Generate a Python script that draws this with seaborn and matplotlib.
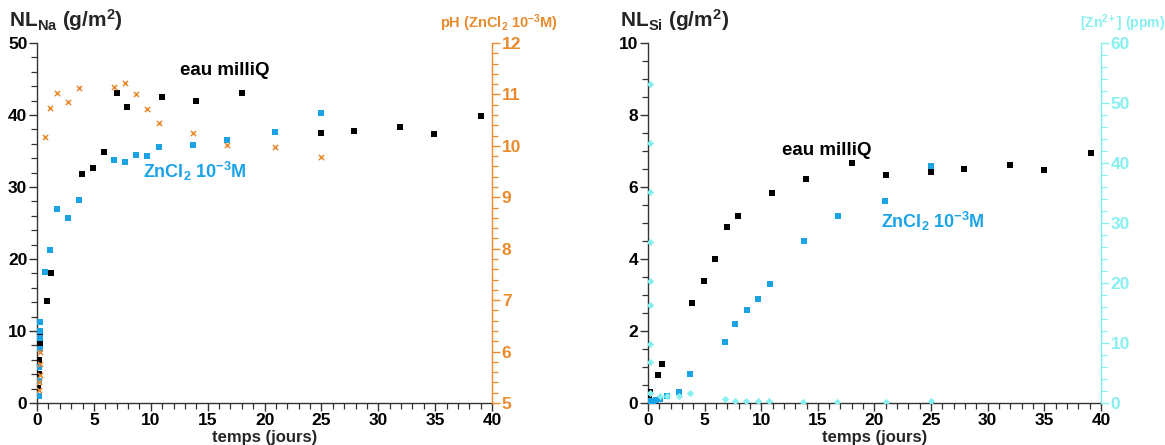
import matplotlib
matplotlib.use('Agg')
import matplotlib.pyplot as plt
from matplotlib.ticker import MultipleLocator
import pandas as pd
import seaborn as sns

# ---- data: Na release (left panel) ----
na_water_t = [0.1, 0.15, 0.2, 0.25, 0.3, 0.85, 1.26, 3.93, 4.93, 5.92, 7.0, 7.95, 10.97,
              13.96, 17.98, 20.9, 25.0, 27.9, 31.9, 34.9, 39.05]
na_water_y = [2.1, 4.0, 6.0, 8.3, 9.8, 14.1, 18.1, 31.8, 32.7, 34.9, 43.1, 41.1, 42.5,
              42.0, 43.0, 37.6, 37.5, 37.8, 38.4, 37.4, 39.9]
na_zn_t = [0.15, 0.2, 0.2, 0.25, 0.25, 0.3, 0.23, 0.73, 1.11, 1.73, 2.73, 3.72, 6.8, 7.74,
           8.71, 9.7, 10.7, 13.7, 16.7, 20.9, 25.0]
na_zn_y = [1.0, 3.0, 5.0, 7.5, 9.0, 10.0, 11.2, 18.2, 21.2, 26.9, 25.7, 28.2, 33.75, 33.5,
           34.4, 34.35, 35.5, 35.9, 36.5, 37.6, 40.3]
ph_t = [0.2, 0.2, 0.25, 0.25, 0.3, 0.73, 1.11, 1.73, 2.73, 3.72, 6.8, 7.74, 8.71, 9.7,
        10.7, 13.7, 16.7, 20.9, 25.0]
ph_y = [5.25, 5.4, 5.55, 5.75, 6.0, 10.18, 10.73, 11.03, 10.86, 11.12, 11.14, 11.22, 11.0,
        10.71, 10.45, 10.25, 10.01, 9.98, 9.78]

# ---- data: Si release (right panel) ----
si_water_t = [0.1, 0.2, 0.85, 1.26, 3.91, 4.91, 5.91, 6.97, 7.94, 10.94, 13.97, 18.0, 21.0,
              25.0, 27.95, 32.0, 35.0, 39.1]
si_water_y = [0.15, 0.3, 0.78, 1.09, 2.78, 3.39, 4.01, 4.89, 5.19, 5.83, 6.21, 6.67, 6.32,
              6.43, 6.49, 6.62, 6.47, 6.95]
si_zn_t = [0.2, 0.4, 0.7, 1.1, 1.7, 2.7, 3.71, 6.79, 7.71, 8.71, 9.74, 10.74, 13.74, 16.74,
           20.97, 25.0]
si_zn_y = [0.05, 0.06, 0.08, 0.1, 0.2, 0.3, 0.8, 1.69, 2.2, 2.59, 2.9, 3.3, 4.49, 5.19,
           5.6, 6.59]
zn_t = [0.15, 0.15, 0.15, 0.15, 0.15, 0.15, 0.15, 0.15, 0.2, 1.03, 1.7, 2.7, 3.7, 6.8, 7.7,
        8.7, 9.7, 10.7, 13.7, 16.7, 21.0, 25.0]
zn_y = [53.2, 43.4, 35.1, 26.9, 20.4, 16.4, 9.9, 6.8, 1.7, 1.1, 1.1, 1.2, 1.7, 0.7, 0.4,
        0.3, 0.3, 0.3, 0.2, 0.2, 0.2, 0.4]

BLACK = '#000000'
BLUE = '#1BA3E8'
ORANGE = '#EA8A2C'
CYAN = '#86F0F0'

sns.set_style('white')
plt.rcParams['font.family'] = ['Liberation Sans', 'DejaVu Sans']
plt.rcParams['font.weight'] = 'bold'
plt.rcParams['mathtext.fontset'] = 'custom'
plt.rcParams['mathtext.rm'] = 'Liberation Sans:bold'
plt.rcParams['mathtext.bf'] = 'Liberation Sans:bold'
plt.rcParams['mathtext.it'] = 'Liberation Sans:bold'

fig = plt.figure(figsize=(11.65, 4.45), dpi=100)
ax1 = fig.add_axes([0.0318, 0.0944, 0.3906, 0.809])
ax3 = fig.add_axes([0.5562, 0.0944, 0.3888, 0.809])

sq = dict(marker='s', s=21, linewidth=0, legend=False, zorder=3)

# left panel
sns.scatterplot(x=na_water_t, y=na_water_y, color=BLACK, ax=ax1, **sq)
sns.scatterplot(x=na_zn_t, y=na_zn_y, color=BLUE, ax=ax1, **sq)
ax2 = ax1.twinx()
sns.scatterplot(x=ph_t, y=ph_y, color=ORANGE, marker='x', s=14, linewidth=1.1,
                legend=False, ax=ax2)

# right panel
sns.scatterplot(x=si_water_t, y=si_water_y, color=BLACK, ax=ax3, **sq)
sns.scatterplot(x=si_zn_t, y=si_zn_y, color=BLUE, ax=ax3, **sq)
ax4 = ax3.twinx()
sns.scatterplot(x=zn_t, y=zn_y, color=CYAN, marker='D', s=14, linewidth=0,
                legend=False, ax=ax4)


def style_main(ax, ymax, ymaj, ymin):
    ax.set_xlim(0, 40)
    ax.set_ylim(0, ymax)
    ax.xaxis.set_major_locator(MultipleLocator(5))
    ax.xaxis.set_minor_locator(MultipleLocator(1))
    ax.yaxis.set_major_locator(MultipleLocator(ymaj))
    ax.yaxis.set_minor_locator(MultipleLocator(ymin))
    for s in ['top', 'right']:
        ax.spines[s].set_visible(False)
    for s in ['left', 'bottom']:
        ax.spines[s].set_color('#333333')
        ax.spines[s].set_linewidth(1.0)
    ax.tick_params(which='both', direction='out', bottom=True, left=True,
                   colors='#333333', labelcolor='black', labelsize=12.5, pad=1)
    ax.tick_params(which='major', length=6, width=1)
    ax.tick_params(which='minor', length=4, width=0.9)
    for lab in ax.get_xticklabels() + ax.get_yticklabels():
        lab.set_fontweight('bold')
    ax.set_xlabel('temps (jours)', fontsize=12, fontweight='bold', labelpad=0)
    ax.xaxis.set_label_coords(0.5, -0.075)
    ax.set_ylabel('')


def style_twin(ax, color, ymin, ymax, ymaj, yminor):
    ax.set_ylim(ymin, ymax)
    ax.yaxis.set_major_locator(MultipleLocator(ymaj))
    ax.yaxis.set_minor_locator(MultipleLocator(yminor))
    for s in ['top', 'left', 'bottom']:
        ax.spines[s].set_visible(False)
    ax.spines['right'].set_color(color)
    ax.spines['right'].set_linewidth(1.0)
    ax.tick_params(which='both', direction='out', right=True, colors=color,
                   labelsize=12.5, pad=1)
    ax.tick_params(which='major', length=6, width=1)
    ax.tick_params(which='minor', length=4, width=0.9)
    for lab in ax.get_yticklabels():
        lab.set_fontweight('bold')
    ax.set_ylabel('')


style_main(ax1, 50, 10, 2)
style_twin(ax2, ORANGE, 5, 12, 1, 0.2)
style_main(ax3, 10, 2, 0.5)
style_twin(ax4, CYAN, 0, 60, 10, 2)

# titles of the axes
fig.text(0.008, 0.94, r'NL$_{\mathrm{Na}}$ (g/m$^{\mathrm{2}}$)', fontsize=15, fontweight='bold')
fig.text(0.378, 0.937, r'pH (ZnCl$_{\mathrm{2}}$ 10$^{\mathrm{-3}}$M)', fontsize=10.5,
         fontweight='bold', color=ORANGE)
fig.text(0.532, 0.94, r'NL$_{\mathrm{Si}}$ (g/m$^{\mathrm{2}}$)', fontsize=15, fontweight='bold')
fig.text(0.927, 0.937, r'[Zn$^{\mathrm{2+}}$] (ppm)', fontsize=10, fontweight='bold', color=CYAN)

# series annotations
ax1.text(12.6, 45.5, 'eau milliQ', fontsize=13.5, fontweight='bold', color=BLACK)
ax1.text(9.3, 31.3, r'ZnCl$_{\mathrm{2}}$ 10$^{\mathrm{-3}}$M', fontsize=13,
         fontweight='bold', color=BLUE)
ax3.text(11.8, 6.9, 'eau milliQ', fontsize=13.5, fontweight='bold', color=BLACK)
ax3.text(20.6, 4.85, r'ZnCl$_{\mathrm{2}}$ 10$^{\mathrm{-3}}$M', fontsize=13,
         fontweight='bold', color=BLUE)

fig.savefig('out.png', dpi=100)
